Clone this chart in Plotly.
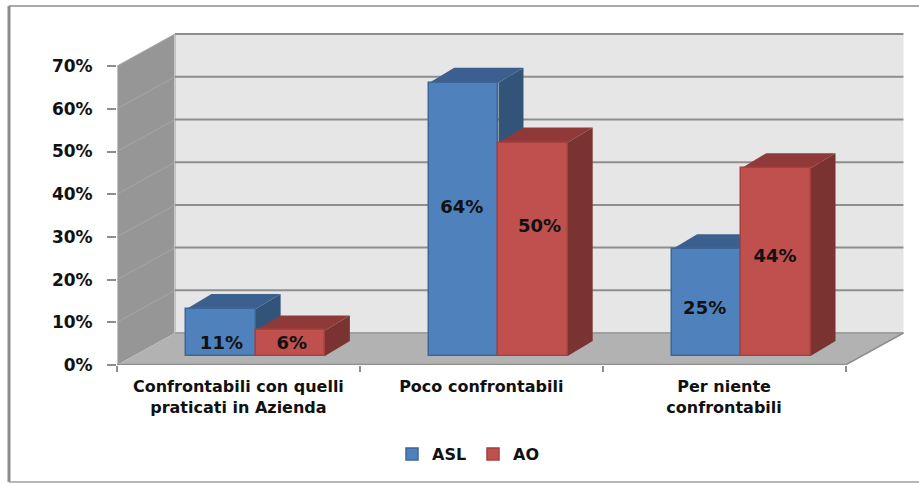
import plotly.graph_objects as go

categories = ["Confrontabili con quelli<br>praticati in Azienda", "Poco confrontabili", "Per niente<br>confrontabili"]
asl_values = [11, 64, 25]
ao_values = [6, 50, 44]
y_ticks = [0, 10, 20, 30, 40, 50, 60, 70]
y_tick_labels = ["0%", "10%", "20%", "30%", "40%", "50%", "60%", "70%"]
# readable positions of the value labels, in chart units
asl_label_pos = [(-0.07, 2.6), (0.92, 34.6), (1.92, 10.9)]
ao_label_pos = [(0.22, 2.6), (1.24, 30), (2.21, 23)]

W, H = 919, 483
PX_X, PX_Y = 243.0, 4.27      # pixels per category / per percent
XMIN, XMAX = -0.5, 2.745
YMAX = 77.75
FLOOR = 2.1                   # bars stand this far up the floor
SHIFT = 0.071
BW = 0.285
WX, WY = 58 / PX_X, 32 / PX_Y  # depth of the walls
DX, DY = 25 / PX_X, 15 / PX_Y  # depth of the bars
FONT = "DejaVu Sans"

fig = go.Figure()


def poly(xs, ys, color, ax=("x", "y")):
    fig.add_trace(go.Scatter(x=xs, y=ys, mode="lines", fill="toself", fillcolor=color,
                             line=dict(width=0), hoverinfo="skip", showlegend=False,
                             xaxis=ax[0], yaxis=ax[1]))


def seg(xs, ys, color, w):
    fig.add_trace(go.Scatter(x=xs, y=ys, mode="lines", line=dict(color=color, width=w),
                             hoverinfo="skip", showlegend=False))


L, R = XMIN, 2.5
top = y_ticks[-1]
# back wall, side wall, floor
poly([L + WX, R + WX, R + WX, L + WX], [WY, WY, top + WY, top + WY], "#e6e6e6")
poly([L, L + WX, L + WX, L], [0, WY, top + WY, top], "#969696")
poly([L, L + WX, R + WX, R], [0, WY, WY, 0], "#b2b2b2")
seg([L + WX, L + WX], [WY, top + WY], "#c4c4c4", 2)
seg([L, L], [0, top], "#c4c4c4", 2)
for v in y_ticks[1:]:
    seg([L, L + WX], [v, v + WY], "#a6a6a6", 1)
    seg([L + WX, R + WX], [v + WY, v + WY], "#8e8e8e", 2)
seg([L + WX, R + WX], [WY, WY], "#a0a0a0", 2)
seg([R, R + WX], [0, WY], "#8e8e8e", 1.5)
seg([L, R], [0, 0], "#8e8e8e", 2.5)


def depth(center, value, side, cap, ax):
    x0, x1 = center - BW / 2, center + BW / 2
    yb, yt = FLOOR, FLOOR + value
    poly([x1, x1 + DX, x1 + DX, x1], [yb, yb + DY, yt + DY, yt], side, ax)
    poly([x0, x0 + DX, x1 + DX, x1], [yt, yt + DY, yt + DY, yt], cap, ax)


asl_x = [i + SHIFT - BW / 2 for i in range(3)]
ao_x = [i + SHIFT + BW / 2 for i in range(3)]

for c, v in zip(asl_x, asl_values):
    depth(c, v, "#335479", "#3b6090", ("x", "y"))
fig.add_trace(go.Bar(x=asl_x, y=asl_values, base=FLOOR, width=BW, name="ASL", xaxis="x2", yaxis="y2",
                     marker=dict(color="#4f81bd", line=dict(color="#3c6697", width=1.5)),
                     hoverinfo="skip"))
for c, v in zip(ao_x, ao_values):
    depth(c, v, "#7a3331", "#8f3a38", ("x2", "y2"))
fig.add_trace(go.Bar(x=ao_x, y=ao_values, base=FLOOR, width=BW, name="AO", xaxis="x3", yaxis="y3",
                     marker=dict(color="#c0504d", line=dict(color="#a5403e", width=1.5)),
                     hoverinfo="skip"))
labels = [f"{v}%" for v in asl_values + ao_values]
pos = asl_label_pos + ao_label_pos
fig.add_trace(go.Scatter(x=[p[0] for p in pos], y=[p[1] + FLOOR for p in pos], text=labels, mode="text",
                         textfont=dict(family=FONT, size=18, color="#111111", weight=600),
                         hoverinfo="skip", showlegend=False, xaxis="x3", yaxis="y3"))

hidden = dict(range=[XMIN, XMAX], visible=False, fixedrange=True)
hiddeny = dict(range=[0, YMAX], visible=False, fixedrange=True)
fig.update_layout(
    width=W, height=H, autosize=False,
    margin=dict(l=117, r=W - 905, t=33, b=H - 365, pad=0),
    paper_bgcolor="white", plot_bgcolor="white",
    barmode="overlay", bargap=0,
    font=dict(family=FONT, size=14, color="#111111"),
    xaxis=dict(range=[XMIN, XMAX], tickmode="array", tickvals=[0, 1, 2], ticktext=categories,
               ticks="", showgrid=False, zeroline=False, showline=False, fixedrange=True,
               tickangle=0, ticklabelstandoff=10,
               tickfont=dict(family=FONT, size=16, color="#111111", weight=600),
               minor=dict(tickmode="array", tickvals=[-0.5, 0.5, 1.5, 2.5], ticks="outside",
                          ticklen=6, tickwidth=2, tickcolor="#8e8e8e", showgrid=False)),
    yaxis=dict(range=[0, YMAX], tickmode="array", tickvals=y_ticks, ticktext=y_tick_labels,
               ticks="outside", ticklen=9, tickwidth=2, tickcolor="#8e8e8e",
               showgrid=False, zeroline=False, showline=False, fixedrange=True,
               ticklabelstandoff=11,
               tickfont=dict(family=FONT, size=17, color="#111111", weight=600)),
    xaxis2=dict(overlaying="x", **hidden), yaxis2=dict(overlaying="y", **hiddeny),
    xaxis3=dict(overlaying="x", **hidden), yaxis3=dict(overlaying="y", **hiddeny),
    legend=dict(orientation="h", x=473 / W, xanchor="center", xref="container",
                y=29 / H, yanchor="middle", yref="container", bgcolor="rgba(0,0,0,0)",
                font=dict(family=FONT, size=16, color="#111111", weight=600),
                traceorder="normal", itemwidth=30, entrywidth=36, entrywidthmode="pixels"),
    shapes=[
        dict(type="line", xref="paper", yref="paper", layer="above",
             x0=-108 / 788, x1=(919 - 117) / 788, y0=(365 - 6) / 332, y1=(365 - 6) / 332,
             line=dict(color="#8c8c8c", width=1.5)),
        dict(type="line", xref="paper", yref="paper", layer="above",
             x0=-108 / 788, x1=-108 / 788, y0=(365 - 6) / 332, y1=(365 - 482) / 332,
             line=dict(color="#8c8c8c", width=3)),
        dict(type="line", xref="paper", yref="paper", layer="above",
             x0=-108 / 788, x1=(919 - 117) / 788, y0=(365 - 482) / 332, y1=(365 - 482) / 332,
             line=dict(color="#a0a0a0", width=1.5)),
    ],
)
fig.write_html("out.html", config=dict(displayModeBar=False),
               post_script="document.body.style.margin='0';document.body.style.overflow='hidden';")
